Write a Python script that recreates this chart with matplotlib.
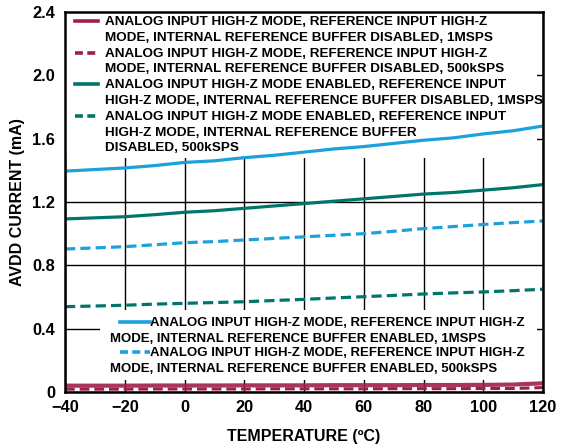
import matplotlib.pyplot as plt
from matplotlib.patches import Rectangle
from matplotlib.lines import Line2D

plt.rcParams['font.family'] = ['Liberation Sans', 'DejaVu Sans']
plt.rcParams['font.weight'] = 'bold'

temperature = [-40, -30, -20, -10, 0, 10, 20, 30, 40, 50, 60, 70, 80, 90, 100, 110, 120]

red_1msps = [0.040, 0.040, 0.040, 0.041, 0.041, 0.041, 0.042, 0.042, 0.042, 0.043, 0.043,
             0.043, 0.044, 0.044, 0.045, 0.047, 0.055]
red_500k = [0.018, 0.018, 0.018, 0.019, 0.019, 0.019, 0.019, 0.020, 0.020, 0.020, 0.020,
            0.021, 0.021, 0.021, 0.022, 0.022, 0.028]
teal_1msps = [1.093, 1.100, 1.107, 1.120, 1.135, 1.145, 1.160, 1.175, 1.190, 1.205, 1.220,
              1.235, 1.250, 1.260, 1.275, 1.290, 1.310]
teal_500k = [0.539, 0.543, 0.548, 0.555, 0.560, 0.565, 0.570, 0.578, 0.585, 0.594, 0.602,
             0.610, 0.619, 0.626, 0.632, 0.640, 0.649]
cyan_1msps = [1.395, 1.405, 1.415, 1.430, 1.450, 1.460, 1.480, 1.495, 1.515, 1.535, 1.550,
              1.570, 1.590, 1.605, 1.630, 1.650, 1.680]
cyan_500k = [0.903, 0.910, 0.918, 0.930, 0.943, 0.950, 0.960, 0.970, 0.980, 0.990, 1.000,
             1.015, 1.032, 1.045, 1.058, 1.070, 1.080]

RED = '#9E1F4B'
TEAL = '#00766B'
CYAN = '#1BA1DB'

upper_labels = [
    "ANALOG INPUT HIGH-Z MODE, REFERENCE INPUT HIGH-Z\nMODE, INTERNAL REFERENCE BUFFER DISABLED, 1MSPS",
    "ANALOG INPUT HIGH-Z MODE, REFERENCE INPUT HIGH-Z\nMODE, INTERNAL REFERENCE BUFFER DISABLED, 500kSPS",
    "ANALOG INPUT HIGH-Z MODE ENABLED, REFERENCE INPUT\nHIGH-Z MODE, INTERNAL REFERENCE BUFFER DISABLED, 1MSPS",
    "ANALOG INPUT HIGH-Z MODE ENABLED, REFERENCE INPUT\nHIGH-Z MODE, INTERNAL REFERENCE BUFFER\nDISABLED, 500kSPS",
]
lower_labels = [
    ("ANALOG INPUT HIGH-Z MODE, REFERENCE INPUT HIGH-Z",
     "MODE, INTERNAL REFERENCE BUFFER ENABLED, 1MSPS"),
    ("ANALOG INPUT HIGH-Z MODE, REFERENCE INPUT HIGH-Z",
     "MODE, INTERNAL REFERENCE BUFFER ENABLED, 500kSPS"),
]

fig = plt.figure(figsize=(5.78, 4.46), dpi=100)
ax = fig.add_axes([65 / 578, 1 - 392 / 446, 478 / 578, 380 / 446])

# pixel helpers (reference image coords -> axes coords)
def axx(px):
    return (px - 65) / 478

def axy(py):
    return (392 - py) / 380

ax.set_xlim(-40, 120)
ax.set_ylim(0, 2.4)
ax.set_xticks(range(-40, 121, 20))
ax.set_yticks([0, 0.4, 0.8, 1.2, 1.6, 2.0, 2.4])
ax.set_yticklabels(['0', '0.4', '0.8', '1.2', '1.6', '2.0', '2.4'])
ax.grid(True, color='black', linewidth=1.0, zorder=0.5)
ax.set_axisbelow(True)
ax.tick_params(length=0, labelsize=11.8, pad=7)
ax.tick_params(axis='x', pad=6)
for s in ax.spines.values():
    s.set_linewidth(1.8)
    s.set_zorder(5)

ax.set_xlabel("TEMPERATURE (ºC)", fontsize=11.5, fontweight='bold', labelpad=10)
ax.set_ylabel("AVDD CURRENT (mA)", fontsize=11.5, fontweight='bold', labelpad=5)

# white legend backgrounds that hide the grid
ax.add_patch(Rectangle((axx(66), axy(158)), axx(537) - axx(66), axy(11) - axy(158),
                       transform=ax.transAxes, facecolor='white', edgecolor='none', zorder=1))
ax.add_patch(Rectangle((axx(100), axy(380)), axx(537) - axx(100), axy(310) - axy(380),
                       transform=ax.transAxes, facecolor='white', edgecolor='none', zorder=1))

lw = 2.3
dash = (3.2, 1.6)
ax.plot(temperature, red_500k, color=RED, lw=2.2, dashes=dash, zorder=2)
ax.plot(temperature, red_1msps, color=RED, lw=3.0, alpha=0.9, zorder=2)
ax.plot(temperature, teal_1msps, color=TEAL, lw=lw, zorder=2)
ax.plot(temperature, teal_500k, color=TEAL, lw=lw, dashes=dash, zorder=2)
ax.plot(temperature, cyan_1msps, color=CYAN, lw=lw, zorder=2)
ax.plot(temperature, cyan_500k, color=CYAN, lw=lw, dashes=dash, zorder=2)

# upper legend
fs = 9.7
line_h = 15.8
styles = [(RED, None), (RED, (2.2, 1.2)), (TEAL, None), (TEAL, (2.2, 1.2))]
row = 0
for lab, (col, ds) in zip(upper_labels, styles):
    y0 = 22 + row * line_h
    h = Line2D([axx(75), axx(98)], [axy(y0 - 1), axy(y0 - 1)], transform=ax.transAxes,
               color=col, lw=2.6, zorder=3)
    if ds:
        h.set_dashes(ds)
    ax.add_line(h)
    for i, part in enumerate(lab.split("\n")):
        ax.text(axx(105), axy(y0 + i * line_h), part, transform=ax.transAxes,
                fontsize=fs, fontweight='bold', ha='left', va='center', zorder=3)
    row += len(lab.split("\n"))

# lower legend
fs_low = 9.5
for k, ((l1, l2), ds) in enumerate(zip(lower_labels, [None, (2.2, 1.2)])):
    y0 = 322.7 + k * 30
    h = Line2D([axx(120), axx(150)], [axy(y0 - 1), axy(y0 - 1)], transform=ax.transAxes,
               color=CYAN, lw=2.6, zorder=3)
    if ds:
        h.set_dashes(ds)
    ax.add_line(h)
    ax.text(axx(150), axy(y0), l1, transform=ax.transAxes, fontsize=fs_low,
            fontweight='bold', ha='left', va='center', zorder=3)
    ax.text(axx(110), axy(y0 + 16), l2, transform=ax.transAxes, fontsize=fs_low,
            fontweight='bold', ha='left', va='center', zorder=3)

fig.savefig("out.png", dpi=100)
